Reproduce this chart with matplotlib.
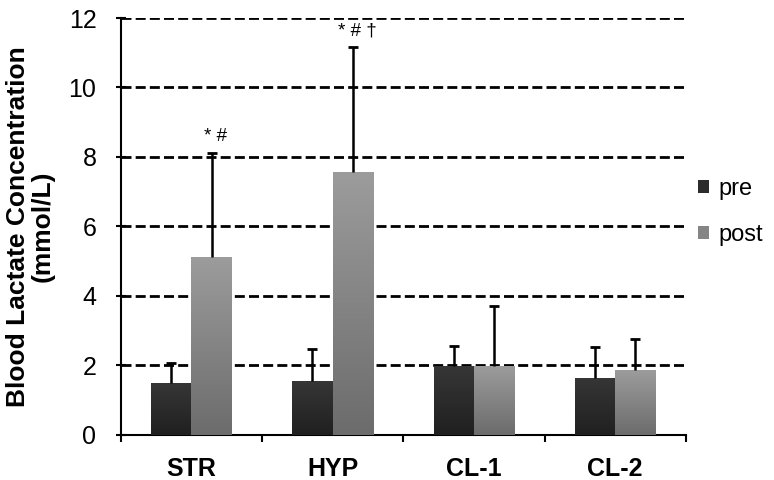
import numpy as np
import matplotlib
matplotlib.use('Agg')
import matplotlib.pyplot as plt
from matplotlib.ticker import FixedLocator
from matplotlib.colors import LinearSegmentedColormap

plt.rcParams['font.family'] = ['Liberation Sans', 'DejaVu Sans']

# data
groups = ['STR', 'HYP', 'CL-1', 'CL-2']
pre = [1.49, 1.55, 1.97, 1.65]
pre_err = [0.59, 0.92, 0.60, 0.89]
post = [5.13, 7.58, 1.99, 1.86]
post_err = [2.99, 3.59, 1.72, 0.91]
marks = ['* #', '* # \u2020', '', '']

x = np.arange(len(groups))
w = 0.285

fig = plt.figure(figsize=(7.74, 4.8), dpi=100)
ax = fig.add_axes([0.156, 0.094, 0.73, 0.8685])

ekw = dict(elinewidth=1.8, capthick=2, ecolor='black', zorder=5)
b1 = ax.bar(x - w/2, pre, w, color='#2c2c2c', label='pre', zorder=3,
            yerr=[np.zeros(4), pre_err], capsize=3.5, error_kw=ekw)
b2 = ax.bar(x + w/2, post, w, color='#858585', label='post', zorder=3,
            yerr=[np.zeros(4), post_err], capsize=3.5, error_kw=ekw)

# only upper error bars -> hide the lower caps
for b in (b1, b2):
    b.errorbar.lines[1][0].set_visible(False)

# vertical shading inside the bars
grad = np.linspace(0, 1, 100).reshape(-1, 1)
cm_pre = LinearSegmentedColormap.from_list('p', ['#202020', '#363636'])
cm_post = LinearSegmentedColormap.from_list('q', ['#6c6c6c', '#9c9c9c'])
for bars, cm in ((b1, cm_pre), (b2, cm_post)):
    for r in bars:
        x0, y0 = r.get_x(), r.get_y()
        im = ax.imshow(grad, cmap=cm, origin='lower', aspect='auto', zorder=4,
                       extent=[x0, x0 + r.get_width(), y0, y0 + r.get_height()])
        im.set_clip_path(r)

# significance markers above the post bars
for i in range(len(groups)):
    if marks[i]:
        ax.text(x[i] + w/2 + 0.03, post[i] + post_err[i] + 0.47, marks[i],
                ha='center', va='center', fontsize=13.5)

ax.set_xlim(-0.5, 3.5)
ax.set_ylim(0, 12)
ax.set_yticks(np.arange(0, 13, 2))
ax.yaxis.grid(True, color='black', linestyle=(0, (3.6, 1.5)), linewidth=2, zorder=0)
ax.set_axisbelow(True)

ax.set_xticks(x)
ax.set_xticklabels(groups, fontsize=18, fontweight='bold')
ax.xaxis.set_minor_locator(FixedLocator(np.arange(-0.5, 4, 1)))
ax.tick_params(axis='x', which='major', length=0, pad=16)
ax.tick_params(axis='x', which='minor', length=5, width=1.5, direction='out')
ax.tick_params(axis='y', length=7, width=1.5, direction='inout', labelsize=18, pad=14)

for s in ['top', 'right']:
    ax.spines[s].set_visible(False)
for s in ['left', 'bottom']:
    ax.spines[s].set_linewidth(1.5)

ax.set_ylabel('Blood Lactate Concentration\n(mmol/L)', fontsize=19,
              fontweight='bold', labelpad=10, linespacing=1.05)

leg = ax.legend(loc='center left', bbox_to_anchor=(1.0, 0.535), frameon=False,
                fontsize=17, handlelength=0.5, handleheight=0.5, handletextpad=0.4,
                labelspacing=1.0, borderaxespad=0.1)

fig.savefig('out.png', dpi=100)
